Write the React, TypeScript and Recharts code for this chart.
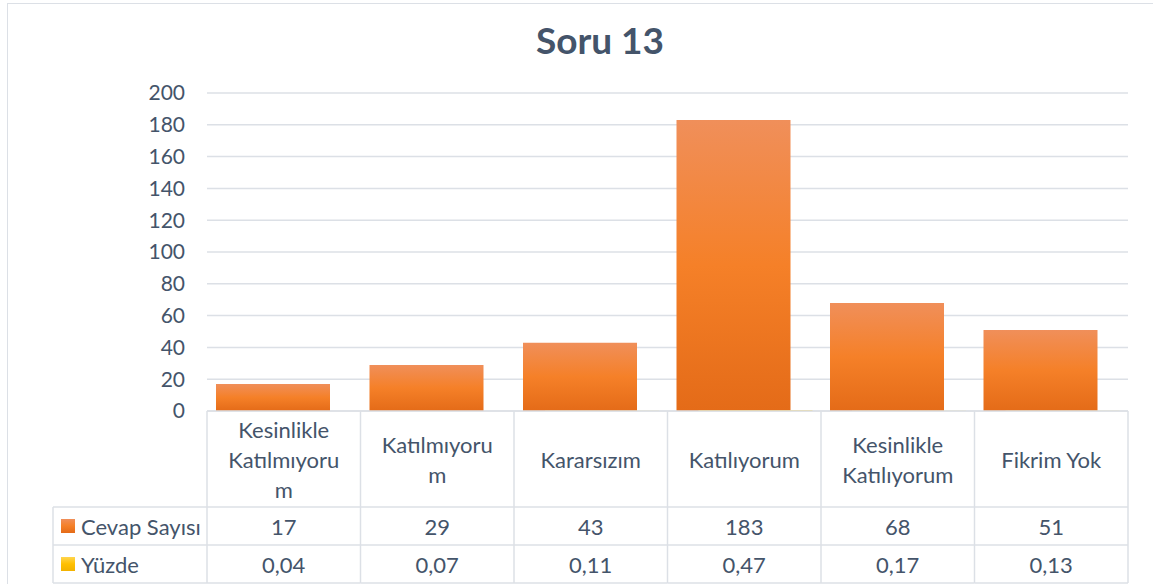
import { Bar, BarChart, CartesianGrid, XAxis, YAxis } from 'recharts'

const categories = ['Kesinlikle Katılmıyorum', 'Katılmıyorum', 'Kararsızım', 'Katılıyorum', 'Kesinlikle Katılıyorum', 'Fikrim Yok']
// how Excel wrapped each category label in the table
const categoryLines = [
  ['Kesinlikle', 'Katılmıyoru', 'm'],
  ['Katılmıyoru', 'm'],
  ['Kararsızım'],
  ['Katılıyorum'],
  ['Kesinlikle', 'Katılıyorum'],
  ['Fikrim Yok'],
]
const cevapSayisi = [17, 29, 43, 183, 68, 51]
const yuzde = [0.04, 0.07, 0.11, 0.47, 0.17, 0.13]
const yTicks = [0, 20, 40, 60, 80, 100, 120, 140, 160, 180, 200]

const data = categories.map((name, i) => ({ name, cevap: cevapSayisi[i], yuzde: yuzde[i] }))

const W = 1153
const H = 584
const MARGIN = { top: 93, right: 25, left: 107, bottom: 0 }
const Y_AXIS_W = 100
const X_AXIS_H = 173
const PLOT_LEFT = MARGIN.left + Y_AXIS_W
const PLOT_RIGHT = W - MARGIN.right
const BAND = (PLOT_RIGHT - PLOT_LEFT) / categories.length
const CAT_ROW_H = 96
const VAL_ROW_H = 38
const LEGEND_LEFT = 53

const TEXT = '#44546A'
const LINE = '#DCE0E6'
const FONT = 'Lato, "Open Sans", sans-serif'

const fmt = (v: number) => v.toFixed(2).replace('.', ',')

function TableTick(props: any) {
  const { x, y, payload } = props
  const i = categories.indexOf(payload.value)
  const half = BAND / 2
  const lines = categoryLines[i] || [payload.value]
  const catMid = y + CAT_ROW_H / 2
  const r1 = y + CAT_ROW_H
  const r2 = r1 + VAL_ROW_H
  const r3 = r2 + VAL_ROW_H
  const ls = { stroke: LINE, strokeWidth: 1.5 }
  const ts = { fill: TEXT, fontSize: 22, fontFamily: FONT, dominantBaseline: 'central' as const }

  return (
    <g>
      {i === 0 && (
        <g>
          <line x1={x - half} x2={x - half} y1={y} y2={r3} {...ls} />
          <line x1={LEGEND_LEFT} x2={LEGEND_LEFT} y1={r1} y2={r3} {...ls} />
          <line x1={LEGEND_LEFT} x2={x - half} y1={r1} y2={r1} {...ls} />
          <line x1={LEGEND_LEFT} x2={x - half} y1={r2} y2={r2} {...ls} />
          <line x1={LEGEND_LEFT} x2={x - half} y1={r3} y2={r3} {...ls} />
          <rect x={LEGEND_LEFT + 8} y={r1 + 12} width={14} height={14} fill="url(#cevapFill)" />
          <text x={LEGEND_LEFT + 28} y={r1 + VAL_ROW_H / 2} {...ts}>Cevap Sayısı</text>
          <rect x={LEGEND_LEFT + 8} y={r2 + 12} width={14} height={14} fill="url(#yuzdeFill)" />
          <text x={LEGEND_LEFT + 28} y={r2 + VAL_ROW_H / 2} {...ts}>Yüzde</text>
        </g>
      )}
      <line x1={x + half} x2={x + half} y1={y} y2={r3} {...ls} />
      <line x1={x - half} x2={x + half} y1={r1} y2={r1} {...ls} />
      <line x1={x - half} x2={x + half} y1={r2} y2={r2} {...ls} />
      <line x1={x - half} x2={x + half} y1={r3} y2={r3} {...ls} />
      {lines.map((t, k) => (
        <text key={k} x={x} y={catMid + (k - (lines.length - 1) / 2) * 30} textAnchor="middle" {...ts}>
          {t}
        </text>
      ))}
      <text x={x} y={r1 + VAL_ROW_H / 2} textAnchor="middle" {...ts}>{cevapSayisi[i]}</text>
      <text x={x} y={r2 + VAL_ROW_H / 2} textAnchor="middle" {...ts}>{fmt(yuzde[i])}</text>
    </g>
  )
}

export default function App() {
  return (
    <div style={{ position: 'absolute', left: 0, top: 0, width: W, height: H, background: '#fff', overflow: 'hidden' }}>
      <div
        style={{
          position: 'absolute',
          left: 7,
          top: 3,
          width: W,
          height: H,
          border: `1.5px solid ${LINE}`,
          boxSizing: 'border-box',
        }}
      />
      <div
        style={{
          position: 'absolute',
          left: 400,
          width: 400,
          top: 21,
          textAlign: 'center',
          fontFamily: FONT,
          fontWeight: 700,
          fontSize: 37,
          lineHeight: 1,
          color: TEXT,
        }}
      >
        Soru 13
      </div>
      <BarChart
        width={W}
        height={H}
        data={data}
        margin={MARGIN}
        barSize={114}
        barGap={-92}
        style={{ position: 'absolute', left: 0, top: 0 }}
      >
        <defs>
          <linearGradient id="cevapFill" x1="0" y1="0" x2="0" y2="1">
            <stop offset="0%" stopColor="#F08F5A" />
            <stop offset="50%" stopColor="#F58028" />
            <stop offset="100%" stopColor="#E46B18" />
          </linearGradient>
          <linearGradient id="yuzdeFill" x1="0" y1="0" x2="0" y2="1">
            <stop offset="0%" stopColor="#FFD54F" />
            <stop offset="50%" stopColor="#FFC000" />
            <stop offset="100%" stopColor="#F2B200" />
          </linearGradient>
        </defs>
        <CartesianGrid vertical={false} stroke={LINE} strokeWidth={1.5} />
        <XAxis
          dataKey="name"
          height={X_AXIS_H}
          interval={0}
          tickLine={false}
          tickSize={0}
          tickMargin={0}
          axisLine={{ stroke: LINE, strokeWidth: 1.5 }}
          tick={<TableTick />}
        />
        <YAxis
          width={Y_AXIS_W}
          domain={[0, 200]}
          ticks={yTicks}
          interval={0}
          tickLine={false}
          axisLine={false}
          tickSize={0}
          tickMargin={22}
          tick={{ fill: TEXT, fontSize: 21, fontFamily: FONT }}
        />
        <Bar dataKey="cevap" fill="url(#cevapFill)" isAnimationActive={false} />
        <Bar dataKey="yuzde" fill="url(#yuzdeFill)" isAnimationActive={false} />
      </BarChart>
    </div>
  )
}
